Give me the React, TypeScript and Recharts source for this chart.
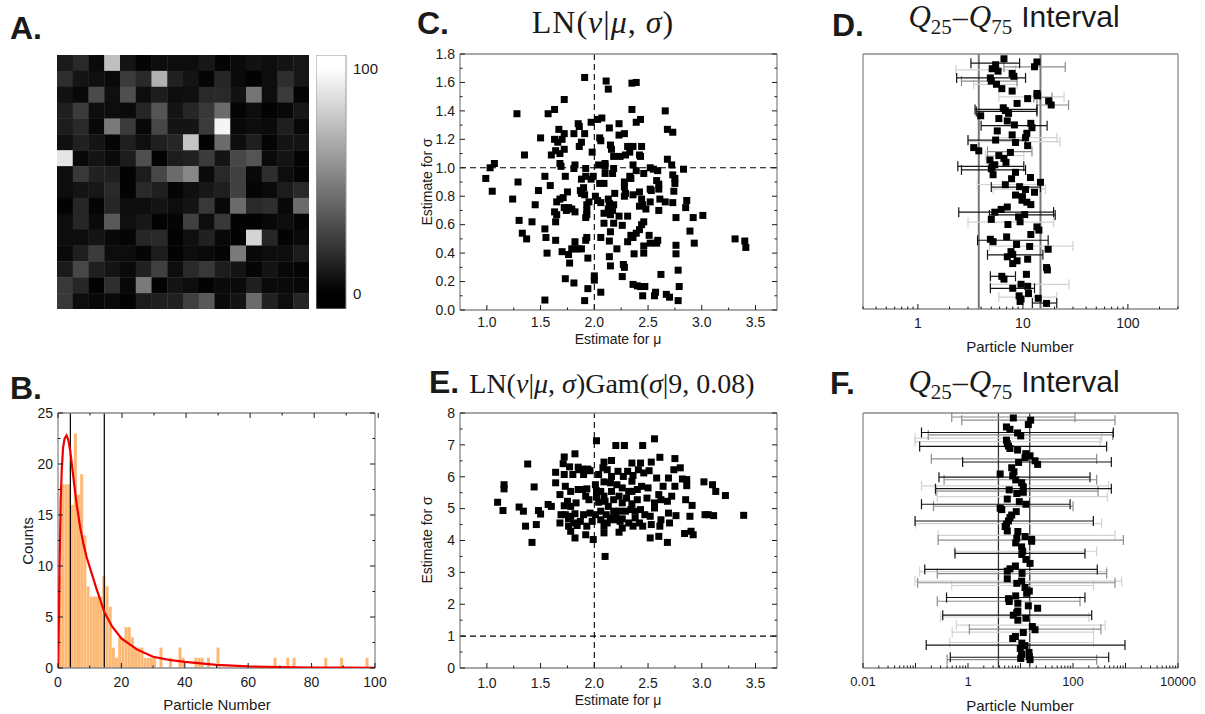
import React from "react";
import {
  ComposedChart, ScatterChart, BarChart, Bar, Scatter, XAxis, YAxis,
  ReferenceLine, ErrorBar,
} from "recharts";

const SANS = '"Liberation Sans", Arial, sans-serif';
const SERIF = '"Liberation Serif", "Times New Roman", serif';
const INK = "#1a1a1a";
const FRAME = "#8a8a8a";
const ORANGE = "#fdb873";

// ---------- A: particle counts per pixel (16 x 16) ----------
const pixelCounts: number[][] = [
  [10, 16, 4, 75, 8, 2, 5, 5, 5, 9, 2, 4, 7, 5, 8, 9],
  [18, 8, 6, 4, 23, 16, 69, 13, 8, 2, 15, 4, 1, 5, 18, 9],
  [7, 3, 29, 6, 31, 5, 11, 5, 6, 16, 16, 7, 46, 5, 23, 2],
  [12, 23, 5, 5, 4, 15, 33, 8, 15, 22, 42, 2, 5, 1, 3, 9],
  [11, 16, 3, 48, 23, 3, 28, 8, 8, 23, 96, 3, 5, 4, 12, 3],
  [6, 13, 8, 2, 12, 6, 12, 15, 77, 1, 42, 5, 12, 2, 8, 8],
  [90, 3, 8, 4, 11, 31, 1, 11, 13, 23, 8, 28, 33, 4, 8, 2],
  [5, 22, 13, 12, 1, 11, 28, 42, 53, 4, 16, 25, 3, 18, 5, 2],
  [5, 8, 9, 16, 1, 16, 12, 2, 6, 9, 12, 25, 2, 4, 11, 16],
  [1, 15, 2, 15, 5, 5, 8, 5, 8, 22, 3, 42, 16, 18, 3, 42],
  [5, 15, 4, 35, 6, 9, 1, 2, 25, 5, 22, 1, 1, 3, 5, 2],
  [5, 5, 8, 3, 2, 15, 16, 1, 6, 13, 3, 1, 83, 15, 1, 4],
  [4, 12, 23, 5, 5, 2, 11, 1, 5, 4, 2, 48, 3, 5, 5, 11],
  [10, 28, 12, 8, 4, 13, 25, 5, 16, 22, 11, 8, 2, 8, 3, 2],
  [22, 15, 1, 18, 3, 48, 1, 8, 5, 1, 4, 4, 12, 4, 4, 3],
  [22, 5, 3, 4, 1, 11, 12, 13, 25, 35, 4, 8, 42, 13, 5, 15],
];
const colorbarTicks = [0, 100];
const colorbarRange: [number, number] = [-7, 106];

// ---------- B: histogram of particle numbers (bins of width 1, 0..99) ----------
const histCounts = [
  9, 18, 18, 18, 16, 23, 17, 19, 13, 8,
  7, 7, 7, 7, 9, 8, 6, 2, 1, 3,
  3, 4, 4, 3, 2, 2, 2, 1, 1, 1,
  1, 0, 2, 0, 0, 1, 0, 0, 2, 1,
  0, 0, 0, 1, 1, 1, 0, 1, 0, 0,
  2, 0, 0, 0, 0, 0, 0, 0, 0, 0,
  0, 0, 0, 0, 0, 0, 0, 0, 1, 0,
  0, 0, 1, 0, 1, 0, 0, 0, 0, 0,
  0, 0, 0, 0, 1, 0, 0, 0, 0, 1,
  0, 0, 0, 0, 0, 0, 0, 1, 0, 0,
];
const histXTicks = [0, 10, 20, 30, 40, 50, 60, 70, 80, 90, 100];
const histXLabels = [0, 20, 40, 60, 80, 100];
const histYTicks = [0, 2.5, 5, 7.5, 10, 12.5, 15, 17.5, 20, 22.5, 25];
const histYLabels = [0, 5, 10, 15, 20, 25];
const fitCurve: [number, number][] = [
  [0, 0], [0.3, 5], [0.5, 10], [0.85, 16.5], [1.2, 19.5], [1.6, 21.6], [2.1, 22.5],
  [2.7, 22.8], [3.3, 22.3], [3.9, 21.2], [5, 18.3], [6, 15.8], [7, 13.8], [8, 12.2],
  [9, 10.9], [10, 9.9], [12, 7.9], [14.6, 5.5], [17, 4.1], [20, 2.9], [25, 1.8],
  [30, 1.1], [35, 0.8], [40, 0.6], [50, 0.3], [60, 0.15], [70, 0.1], [80, 0.05],
  [90, 0.03], [100, 0.02],
];
const quartileMarks = [3.9, 14.6];

// ---------- C / E: estimates ----------
const muTicks = [1, 1.25, 1.5, 1.75, 2, 2.25, 2.5, 2.75, 3, 3.25, 3.5];
const muLabels = [1, 1.5, 2, 2.5, 3, 3.5];
const sigmaTicksC = [0, 0.1, 0.2, 0.3, 0.4, 0.5, 0.6, 0.7, 0.8, 0.9, 1, 1.1, 1.2, 1.3, 1.4, 1.5, 1.6, 1.7, 1.8];
const sigmaLabelsC = [0, 0.2, 0.4, 0.6, 0.8, 1, 1.2, 1.4, 1.6, 1.8];
const sigmaTicksE = [0, 0.5, 1, 1.5, 2, 2.5, 3, 3.5, 4, 4.5, 5, 5.5, 6, 6.5, 7, 7.5, 8];
const sigmaLabelsE = [0, 1, 2, 3, 4, 5, 6, 7, 8];

const cPoints: [number, number][] = [
  [1.91, 1.635], [2.11, 1.61], [2.13, 1.553], [2.35, 1.595], [2.39, 1.6], [1.72, 1.48], [1.28, 1.38],
  [1.57, 1.38], [1.63, 1.41], [2.35, 1.41], [2.66, 1.4], [2.43, 1.34], [2.39, 1.32], [2.07, 1.35],
  [2.03, 1.34], [1.97, 1.32], [1.85, 1.31], [1.86, 1.29], [1.67, 1.27], [2.14, 1.28], [2.23, 1.31],
  [2.68, 1.27], [2.73, 1.25], [2.28, 1.24], [2.23, 1.23], [1.91, 1.24], [1.81, 1.24], [1.72, 1.24],
  [1.7, 1.2], [1.5, 1.21], [1.63, 1.2], [1.66, 1.18], [2.06, 1.19], [2.05, 1.21], [1.88, 1.18],
  [1.86, 1.15], [2.15, 1.16], [2.16, 1.13], [2.31, 1.15], [2.36, 1.15], [2.44, 1.15], [1.64, 1.12],
  [1.72, 1.13], [1.68, 1.1], [1.98, 1.11], [1.6, 1.09], [1.35, 1.09], [2.18, 1.08], [2.24, 1.08],
  [2.29, 1.09], [2.33, 1.11], [2.42, 1.09], [2.43, 1.08], [2.68, 1.06], [1.03, 1.0], [1.07, 1.03],
  [0.99, 0.925], [1.05, 0.835], [1.29, 0.9], [1.24, 0.78], [1.48, 0.84], [1.45, 0.74], [1.3, 0.63],
  [1.42, 0.62], [1.33, 0.54], [1.37, 0.5], [1.54, 0.57], [1.55, 0.51], [1.56, 0.4], [1.54, 0.07],
  [1.54, 0.94], [1.59, 0.875], [1.68, 1.03], [1.69, 1.01], [1.73, 0.94], [1.82, 1.02], [1.81, 0.995],
  [1.92, 0.995], [1.92, 0.94], [1.88, 0.92], [1.99, 0.94], [1.97, 0.92], [2.04, 1.02], [2.1, 1.03],
  [2.1, 1.01], [2.17, 0.96], [2.1, 0.96], [2.09, 0.89], [2.05, 0.89], [2.36, 1.02], [2.39, 0.98],
  [2.34, 0.925], [2.33, 0.94], [2.46, 0.96], [2.52, 1.0], [2.55, 0.99], [2.59, 0.98], [2.72, 1.02],
  [2.83, 0.99], [2.73, 0.95], [2.75, 0.925], [2.75, 0.89], [2.58, 0.91], [2.6, 0.885], [2.6, 0.85],
  [2.52, 0.85], [2.74, 0.835], [2.28, 0.9], [1.9, 0.86], [1.87, 0.84], [1.88, 0.82], [1.91, 0.81],
  [1.75, 0.83], [1.65, 0.76], [1.68, 0.78], [1.71, 0.79], [1.79, 0.71], [1.82, 0.69], [1.76, 0.72],
  [1.72, 0.72], [2.01, 0.8], [2.03, 0.77], [2.06, 0.755], [1.95, 0.76], [1.93, 0.74], [1.93, 0.7],
  [1.93, 0.67], [2.13, 0.78], [2.14, 0.75], [2.18, 0.74], [2.28, 0.8], [2.29, 0.82], [2.18, 0.995],
  [2.44, 0.78], [2.45, 0.74], [2.48, 0.71], [2.42, 0.73], [2.52, 0.76], [2.53, 0.84], [2.61, 0.78],
  [2.66, 0.76], [2.6, 0.7], [2.73, 0.755], [2.86, 0.77], [2.85, 0.72], [3.01, 0.665], [2.92, 0.65],
  [2.89, 0.555], [2.93, 0.47], [2.76, 0.65], [1.63, 0.69], [1.65, 0.67], [1.64, 0.62], [1.64, 0.49],
  [1.74, 0.7], [1.92, 0.65], [2.09, 0.68], [2.13, 0.71], [2.17, 0.7], [2.15, 0.67], [2.09, 0.61],
  [2.15, 0.55], [2.23, 0.66], [2.18, 0.61], [2.26, 0.595], [2.31, 0.66], [2.36, 0.51], [2.39, 0.54],
  [2.42, 0.565], [2.44, 0.6], [2.46, 0.62], [2.31, 0.48], [2.34, 0.525], [2.51, 0.525], [2.52, 0.47],
  [2.58, 0.47], [2.59, 0.49], [2.46, 0.45], [2.06, 0.51], [2.14, 0.485], [1.82, 0.48], [1.92, 0.49],
  [1.93, 0.51], [1.79, 0.43], [1.82, 0.43], [1.85, 0.43], [1.88, 0.43], [1.7, 0.41], [1.76, 0.39],
  [1.77, 0.33], [1.73, 0.22], [1.81, 0.19], [1.94, 0.365], [1.94, 0.15], [1.91, 0.066], [2.0, 0.24],
  [2.0, 0.21], [2.06, 0.125], [2.14, 0.375], [2.15, 0.31], [2.21, 0.43], [2.26, 0.235], [2.27, 0.32],
  [2.28, 0.3], [2.37, 0.395], [2.36, 0.18], [2.4, 0.17], [2.43, 0.165], [2.47, 0.165], [2.45, 0.1],
  [2.46, 0.4], [2.56, 0.1], [2.57, 0.125], [2.62, 0.25], [2.67, 0.11], [2.7, 0.09], [2.76, 0.395],
  [2.76, 0.455], [2.78, 0.28], [2.79, 0.165], [2.78, 0.066], [3.31, 0.5], [3.4, 0.485], [3.41, 0.44],
  [2.28, 0.865], [2.19, 0.82], [2.36, 0.81], [2.42, 0.83],
];

const ePoints: [number, number][] = [
  [2.02, 7.13], [2.2, 6.98], [2.28, 6.98], [2.45, 6.98], [2.56, 7.19], [1.82, 6.72], [1.72, 6.62],
  [2.61, 6.61], [2.75, 6.57], [1.38, 6.4], [1.71, 6.41], [2.09, 6.46], [2.16, 6.51], [2.35, 6.43],
  [2.43, 6.43], [2.53, 6.46], [1.77, 6.31], [1.85, 6.3], [1.86, 6.22], [1.89, 6.24], [1.96, 6.19],
  [1.94, 6.24], [2.12, 6.22], [2.08, 6.28], [2.22, 6.17], [2.31, 6.17], [2.41, 6.22], [2.51, 6.19],
  [2.74, 6.22], [2.8, 6.28], [1.64, 6.14], [1.8, 6.07], [1.72, 6.07], [1.9, 6.07], [2.04, 6.07],
  [2.16, 6.01], [2.27, 6.01], [2.36, 6.04], [2.46, 6.12], [2.58, 5.96], [2.69, 5.96], [2.82, 5.93],
  [2.86, 5.91], [3.02, 5.84], [3.1, 5.75], [3.13, 5.54], [3.22, 5.41], [3.39, 4.79], [3.03, 4.81],
  [3.06, 4.81], [3.11, 4.78], [2.91, 5.1], [2.85, 5.28], [2.86, 5.72], [2.75, 5.7], [2.72, 5.39],
  [2.68, 5.23], [2.62, 5.28], [2.6, 5.44], [2.76, 4.78], [2.69, 4.86], [2.62, 4.65], [2.7, 4.55],
  [2.61, 4.45], [2.53, 4.5], [2.52, 4.08], [2.6, 4.13], [2.68, 3.94], [2.84, 4.22], [2.9, 4.29],
  [2.92, 4.18], [2.89, 4.76], [2.47, 4.81], [2.52, 4.76], [2.56, 5.02], [2.49, 5.33], [2.44, 5.7],
  [2.4, 5.6], [2.5, 5.65], [2.35, 5.86], [2.32, 5.54], [2.26, 5.65], [2.21, 5.75], [2.15, 5.81],
  [2.09, 5.84], [2.01, 5.75], [1.93, 5.62], [1.85, 5.6], [1.78, 5.54], [1.73, 5.7], [1.64, 5.81],
  [1.68, 5.44], [1.6, 5.07], [1.57, 5.13], [1.75, 5.23], [1.83, 5.18], [1.78, 5.07], [1.72, 5.09],
  [1.92, 5.39], [1.95, 5.28], [2.02, 5.36], [2.09, 5.39], [2.04, 5.2], [2.1, 5.23], [2.13, 5.07],
  [2.18, 5.28], [2.23, 5.39], [2.26, 5.18], [2.3, 5.33], [2.35, 5.15], [2.4, 5.28], [2.43, 4.97],
  [2.38, 4.92], [2.34, 4.97], [2.29, 4.92], [2.23, 4.92], [2.18, 4.92], [2.11, 4.81], [2.06, 4.92],
  [2.01, 4.81], [1.96, 4.86], [1.9, 4.81], [1.82, 4.84], [1.78, 4.76], [1.73, 4.81], [1.69, 4.81],
  [1.68, 4.55], [1.76, 4.68], [1.81, 4.55], [1.84, 4.47], [1.87, 4.6], [1.93, 4.45], [1.92, 4.18],
  [1.82, 4.08], [1.78, 4.29], [1.76, 4.45], [1.98, 4.6], [1.99, 4.03], [2.06, 4.65], [2.09, 4.45],
  [2.12, 4.55], [2.09, 4.24], [2.18, 4.65], [2.24, 4.6], [2.26, 4.39], [2.23, 4.26], [2.32, 4.55],
  [2.36, 4.45], [2.42, 4.55], [2.45, 4.45], [2.15, 4.71], [2.2, 4.81], [2.26, 4.68], [2.38, 4.71],
  [2.35, 5.54], [2.1, 3.5], [1.1, 5.2], [1.15, 4.94], [1.16, 5.75], [1.16, 5.62], [1.3, 5.05],
  [1.34, 4.92], [1.36, 4.45], [1.42, 3.94], [1.46, 4.5], [1.44, 5.68], [1.48, 4.94], [1.5, 4.83],
  [1.89, 5.6], [2.02, 5.56], [2.06, 5.54], [2.16, 5.54], [2.64, 5.7], [2.56, 5.18],
];

// ---------- D / F: per-pixel medians and Q25-Q75 intervals ----------
// [median, row]
const dMedians: [number, number][] = [
  [6.6, 1.2], [13.6, 2.0], [12.9, 3.2], [5.5, 2.7], [5.1, 3.7], [5.8, 4.3], [7.9, 4.9], [8.2, 5.6],
  [4.9, 6.0], [5.0, 6.8], [5.6, 7.6], [6.3, 8.7], [7.9, 9.3], [13.6, 9.9], [13.8, 10.5], [11.1, 11.2],
  [8.8, 12.4], [17.6, 11.8], [18.6, 12.8], [6.5, 13.5], [6.8, 14.2], [7.3, 14.9], [3.96, 15.5],
  [5.9, 16.2], [7.1, 16.8], [8.3, 17.8], [11.9, 17.4], [12.2, 18.5], [5.7, 19.3], [7.9, 20.3],
  [10.9, 19.9], [10.6, 21.0], [5.5, 21.6], [8.5, 22.2], [11.1, 23.0], [3.4, 23.5], [3.8, 24.3],
  [7.6, 24.7], [5.9, 25.5], [6.6, 26.2], [6.9, 27.2], [4.85, 26.6], [5.1, 28.3], [5.4, 27.8],
  [5.0, 28.8], [8.5, 29.7], [5.2, 30.3], [7.8, 31.3], [11.8, 31.0], [6.8, 32.8], [14.7, 32.2],
  [9.3, 33.3], [10.6, 34.0], [12.9, 34.7], [8.5, 35.4], [9.9, 35.8], [9.8, 36.7], [10.9, 37.2],
  [11.9, 37.8], [7.1, 38.4], [6.2, 39.0], [5.4, 39.7], [10.4, 40.3], [9.1, 40.9], [9.4, 42.1],
  [5.0, 41.5], [7.2, 42.8], [13.6, 43.4], [14.2, 44.2], [11.9, 45.3], [7.0, 45.9], [4.9, 46.5],
  [5.2, 47.1], [8.7, 47.8], [11.6, 48.3], [17.4, 49.0], [7.7, 49.6], [8.0, 50.3], [7.1, 50.9],
  [11.1, 51.5], [8.8, 51.9], [8.0, 52.6], [16.8, 53.6], [17.1, 54.2], [10.8, 55.3], [6.3, 55.8],
  [6.6, 56.5], [9.6, 57.8], [11.1, 58.3], [8.0, 58.8], [11.3, 60.1], [9.2, 60.7], [9.6, 61.5],
  [14.0, 61.3], [16.8, 62.6], [9.4, 62.1],
];
// [q25, q75, row, shade 0=black 1=gray 2=light]
const dIntervals: [number, number, number, number][] = [
  [3.2, 9.3, 2.3, 0], [6.6, 25.3, 3.25, 1], [2.3, 8.5, 4.0, 2], [2.34, 10.6, 6.0, 0], [2.6, 8.8, 6.8, 1],
  [3.4, 8.8, 7.6, 2], [5.9, 24.7, 10.75, 2], [12.7, 18.9, 10.9, 1], [13.6, 27.2, 12.8, 1],
  [3.5, 13.6, 13.9, 0], [3.6, 13.6, 14.4, 0], [4.0, 17.0, 18.0, 0], [5.8, 21.1, 21.0, 2],
  [3.0, 22.5, 22.0, 2], [3.0, 10.6, 21.6, 0], [4.6, 12.2, 24.5, 1], [4.4, 10.2, 25.5, 2],
  [2.4, 10.2, 28.2, 0], [2.6, 10.6, 29.1, 0], [3.68, 15.2, 32.75, 2], [5.0, 14.7, 33.4, 0],
  [5.2, 16.4, 33.9, 2], [2.45, 19.6, 39.7, 0], [4.8, 20.3, 40.4, 0], [3.0, 19.6, 42.2, 2],
  [3.7, 17.4, 46.75, 0], [4.8, 30, 48.2, 2], [4.6, 15.5, 50.4, 0], [4.9, 8.5, 55.8, 0],
  [4.9, 27.5, 57.8, 2], [4.9, 12.9, 58.8, 0], [5.9, 21.0, 61.0, 2], [12.3, 21.0, 62.5, 0],
];
const fMedians: [number, number][] = [
  [7.3, 1.25], [15.6, 1.8], [14.1, 2.9], [5.4, 3.5], [6.3, 4.1], [8.8, 5.0], [10.1, 5.75], [5.4, 6.8],
  [5.6, 7.7], [5.9, 8.3], [6.3, 8.9], [8.8, 9.3], [12.6, 10.2], [15.2, 10.75], [18.9, 12.0], [21.2, 12.9],
  [12.2, 11.2], [9.2, 12.4], [6.8, 13.75], [7.5, 14.75], [4.1, 15.3], [7.1, 15.75], [8.1, 16.8],
  [10.5, 17.5], [11.3, 18.5], [6.1, 19.3], [8.5, 20.2], [11.3, 19.9], [5.6, 21.6], [9.5, 22.25],
  [12.7, 22.9], [4.1, 23.9], [4.4, 24.25], [8.3, 24.75], [6.8, 25.6], [6.3, 26.25], [5.9, 27.1],
  [5.4, 27.9], [5.1, 28.5], [5.6, 29.6], [8.9, 29.75], [8.5, 31.4], [12.2, 31.0], [16.3, 31.7],
  [8.1, 32.6], [16.3, 32.2], [10.5, 33.6], [11.0, 34.7], [10.6, 35.5], [12.7, 36.75], [15.2, 37.75],
  [8.0, 38.4], [6.3, 39.1], [5.6, 39.7], [10.7, 40.25], [5.6, 41.6], [10.5, 42.2], [8.5, 42.75],
  [12.2, 43.8], [14.7, 44.7], [13.1, 45.25], [8.1, 45.9], [5.9, 46.6], [6.1, 47.3], [8.9, 47.75],
  [14.1, 48.4], [21.2, 49.0], [8.9, 49.7], [8.5, 50.1], [7.3, 50.75], [12.7, 51.5], [8.9, 52.0],
  [16.8, 53.6], [18.9, 54.4], [11.3, 55.1], [8.0, 56.1], [7.1, 56.6], [10.6, 57.75], [12.2, 58.4],
  [9.9, 59.1], [14.5, 60.1], [10.5, 60.5], [10.1, 61.6], [14.7, 61.1], [15.2, 61.9],
];
const fIntervals: [number, number, number, number][] = [
  [0.49, 109, 1.0, 1], [0.76, 631, 1.8, 1], [0.13, 586, 4.9, 0], [0.175, 570, 5.5, 1], [0.098, 352, 6.3, 2],
  [0.098, 327, 7.2, 2], [0.12, 437, 8.4, 0], [0.2, 282, 11.5, 1], [0.79, 537, 12.3, 0], [0.28, 211, 16.1, 0],
  [0.35, 282, 16.75, 1], [0.13, 478, 18.3, 2], [0.24, 537, 19.0, 0], [0.245, 300, 19.6, 1],
  [0.26, 450, 21.0, 2], [0.13, 88, 22.9, 0], [0.22, 100, 23.4, 1], [0.098, 244, 27.1, 0],
  [0.1, 350, 27.75, 2], [0.27, 631, 30.7, 2], [0.27, 912, 31.9, 1], [0.55, 282, 34.7, 2],
  [0.565, 169, 35.25, 0], [0.15, 290, 39.25, 0], [0.12, 437, 39.8, 2], [0.26, 437, 40.3, 1],
  [0.098, 846, 42.2, 2], [0.11, 631, 42.6, 1], [0.49, 246, 43.3, 2], [0.39, 169, 46.3, 0],
  [0.26, 136, 47.25, 1], [0.33, 227, 50.75, 0], [0.3, 200, 51.2, 2], [0.6, 410, 53.25, 2],
  [1.06, 340, 54.25, 1], [0.5, 246, 55.0, 2], [0.16, 977, 58.25, 0], [0.45, 246, 57.6, 2],
  [0.46, 478, 61.3, 0], [0.4, 282, 61.9, 1],
];
const dLabels = [1, 10, 100];
const fLabels = [0.01, 1, 100, 10000];
const dQuartiles = [3.8, 14.7];
const fQuartiles = [3.8, 15];
const SHADES = ["#151515", "#8c8c8c", "#d2d2d2"];

// ---------- helpers ----------
const logTicks = (lo: number, hi: number) => {
  const out: number[] = [];
  for (let e = -3; e <= 4; e++) {
    for (let m = 1; m <= 9; m++) {
      const v = +(m * Math.pow(10, e)).toPrecision(3);
      if (v >= lo * 0.999 && v <= hi * 1.001) out.push(v);
    }
  }
  return out;
};
const decades = (lo: number, hi: number) => logTicks(lo, hi).filter((v) => /^1/.test(v.toExponential()));

const near = (arr: number[], v: number) =>
  arr.some((a) => Math.abs(a - v) <= 1e-6 * Math.max(1, Math.abs(a)));

type Side = "bottom" | "top" | "left" | "right";
function tickFor(side: Side, labels: number[], majors: number[], fmt: (v: number) => string, fs: number, gap: number) {
  return (p: any) => {
    const { x, y } = p;
    const v = p.payload.value;
    const len = near(majors, v) ? 5 : 2.5;
    const show = near(labels, v);
    const ln = { stroke: INK, strokeWidth: 1 };
    if (side === "bottom")
      return (
        <g>
          <line x1={x} x2={x} y1={y} y2={y - len} {...ln} />
          {show && (
            <text x={x} y={y + gap} dy="0.71em" textAnchor="middle" fontSize={fs} fontFamily={SANS} fill={INK}>
              {fmt(v)}
            </text>
          )}
        </g>
      );
    if (side === "top") return <line x1={x} x2={x} y1={y} y2={y + len} {...ln} />;
    if (side === "right") return <line x1={x} x2={x - len} y1={y} y2={y} {...ln} />;
    return (
      <g>
        <line x1={x} x2={x + len} y1={y} y2={y} {...ln} />
        {show && (
          <text x={x - gap} y={y} dy="0.34em" textAnchor="end" fontSize={fs} fontFamily={SANS} fill={INK}>
            {fmt(v)}
          </text>
        )}
      </g>
    );
  };
}

interface FrameOpts {
  xId?: string | number;
  log?: boolean;
  xDomain: [number, number];
  xTicks: number[];
  xMajor: number[];
  xLabels: number[];
  xFmt: (v: number) => string;
  yDomain: [number, number];
  yTicks?: number[];
  yMajor?: number[];
  yLabels?: number[];
  yFmt?: (v: number) => string;
  reversed?: boolean;
  leftW: number;
  bottomH: number;
  fs: number;
  xGap: number;
}

// four axes forming the box; the top / right ones are 1px thick and carry only inward ticks
function frame(o: FrameOpts) {
  const xId = o.xId ?? 0;
  const axisLine = { stroke: FRAME, strokeWidth: 1.3 };
  const scale = o.log ? "log" : "linear";
  const yFmt = o.yFmt ?? ((v: number) => String(v));
  const hasY = !!o.yTicks;
  return [
    <XAxis key="xb" xAxisId={xId} dataKey="x" type="number" scale={scale} domain={o.xDomain}
      allowDataOverflow ticks={o.xTicks} interval={0} tickSize={0} tickMargin={0} tickLine={false}
      axisLine={axisLine} height={o.bottomH}
      tick={tickFor("bottom", o.xLabels, o.xMajor, o.xFmt, o.fs, o.xGap)} />,
    <XAxis key="xt" xAxisId="top" orientation="top" type="number" scale={scale} domain={o.xDomain}
      allowDataOverflow ticks={o.xTicks} interval={0} tickSize={0} tickMargin={0} tickLine={false}
      axisLine={axisLine} height={1}
      tick={tickFor("top", [], o.xMajor, o.xFmt, o.fs, o.xGap)} />,
    <YAxis key="yl" yAxisId={0} dataKey="y" type="number" domain={o.yDomain} allowDataOverflow reversed={o.reversed}
      ticks={hasY ? o.yTicks : undefined} interval={0} tickSize={0} tickMargin={0} tickLine={false}
      axisLine={axisLine} width={o.leftW}
      tick={hasY ? tickFor("left", o.yLabels ?? [], o.yMajor ?? [], yFmt, o.fs, 5) : false} />,
    <YAxis key="yr" yAxisId="right" orientation="right" type="number" domain={o.yDomain} allowDataOverflow
      reversed={o.reversed} ticks={hasY ? o.yTicks : undefined} interval={0} tickSize={0} tickMargin={0}
      tickLine={false} axisLine={axisLine} width={1}
      tick={hasY ? tickFor("right", [], o.yMajor ?? [], yFmt, o.fs, 5) : false} />,
    <Scatter key="anchor" xAxisId="top" yAxisId="right" data={[]} shape={() => <g />} isAnimationActive={false} />,
  ];
}

const Square = (p: any) => <rect x={p.cx - 3.5} y={p.cy - 3.5} width={7} height={7} fill="#000" />;
const Nothing = () => <g />;

const HEAT_W = 252;
const HEAT_H = 254;
const CELL_W = HEAT_W / 16;
const CELL_H = HEAT_H / 16;
const HeatCell = (p: any) => {
  const g = Math.round(Math.max(0, Math.min(100, p.payload.v)) * 2.55);
  return (
    <rect x={p.cx - CELL_W / 2} y={p.cy - CELL_H / 2} width={CELL_W + 0.4} height={CELL_H + 0.4}
      fill={`rgb(${g},${g},${g})`} />
  );
};

function Pos({ left, top, children }: any) {
  return <div style={{ position: "absolute", left, top }}>{children}</div>;
}
function Label({ x, y, size, children, rotate = false, style = {} }: any) {
  return (
    <div
      style={{
        position: "absolute", left: x, top: y, fontSize: size, lineHeight: 1, whiteSpace: "nowrap",
        transform: `translate(-50%, -50%)${rotate ? " rotate(-90deg)" : ""}`, ...style,
      }}
    >
      {children}
    </div>
  );
}
function Letter({ x, y, children }: any) {
  return (
    <div style={{ position: "absolute", left: x, top: y, transform: "translateY(-50%)", fontSize: 32,
      fontWeight: 700, lineHeight: 1, fontFamily: SANS }}>
      {children}
    </div>
  );
}
function QTitle({ x, y }: any) {
  const q = { fontFamily: SERIF, fontStyle: "italic" as const, fontSize: 31 };
  const sub = { fontFamily: SERIF, fontSize: 21, position: "relative" as const, top: 7 };
  return (
    <Label x={x} y={y} size={30}>
      <span style={q}>Q</span><span style={sub}>25</span>
      <span style={{ fontFamily: SERIF, fontSize: 30, margin: "0 1px" }}>–</span>
      <span style={q}>Q</span><span style={sub}>75</span>
      <span style={{ fontFamily: SANS, marginLeft: 9 }}>Interval</span>
    </Label>
  );
}

export default function App() {
  const heatData = pixelCounts.flatMap((row, r) => row.map((v, c) => ({ x: c + 0.5, y: r + 0.5, v })));
  const histData = histCounts.map((count, bin) => ({ bin, count }));
  const curveData = fitCurve.map(([x, y]) => ({ x, y }));
  const cData = cPoints.map(([x, y]) => ({ x, y }));
  const eData = ePoints.map(([x, y]) => ({ x, y }));
  const toMed = (a: [number, number][]) => a.map(([x, y]) => ({ x, y }));
  const toInt = (a: [number, number, number, number][], shade: number) =>
    a.filter((d) => d[3] === shade).map(([lo, hi, y]) => ({ x: lo, y, err: [0, hi - lo] }));

  const muFmt = (v: number) => v.toFixed(1);
  const logFmt = (v: number) => String(v);

  const intervalChart = (
    meds: [number, number][], ints: [number, number, number, number][], dom: [number, number],
    labels: number[], quart: number[], qColor: string, qWidth: number, fs: number,
  ) => (
    <ScatterChart width={380} height={300} margin={{ top: 9, right: 21, bottom: 0, left: 0 }}>
      {frame({
        log: true, xDomain: dom, xTicks: logTicks(dom[0], dom[1]), xMajor: decades(dom[0], dom[1]),
        xLabels: labels, xFmt: logFmt, yDomain: [0, 64], reversed: true, leftW: 43, bottomH: 35, fs, xGap: 9,
      })}
      {quart.map((q) => (
        <ReferenceLine key={q} x={q} stroke={qColor} strokeWidth={qWidth} />
      ))}
      {[2, 1, 0].map((s) => (
        <Scatter key={s} data={toInt(ints, s)} shape={Nothing} isAnimationActive={false}>
          <ErrorBar dataKey="err" direction="x" width={5} stroke={SHADES[s]} strokeWidth={1.2}
            isAnimationActive={false} />
        </Scatter>
      ))}
      <Scatter data={toMed(meds)} shape={Square} isAnimationActive={false} />
    </ScatterChart>
  );

  return (
    <div style={{ position: "absolute", left: 0, top: 0, width: 1205, height: 714, background: "#fff",
      fontFamily: SANS, color: INK, overflow: "hidden" }}>
      {/* A */}
      <Letter x={10} y={28}>A.</Letter>
      <Pos left={57} top={55}>
        <ScatterChart width={HEAT_W} height={HEAT_H} margin={{ top: 0, right: 0, bottom: 0, left: 0 }}>
          <XAxis dataKey="x" type="number" domain={[0, 16]} hide />
          <YAxis dataKey="y" type="number" domain={[0, 16]} reversed hide />
          <Scatter data={heatData} shape={HeatCell} isAnimationActive={false} />
        </ScatterChart>
      </Pos>
      <Pos left={316} top={55}>
        <BarChart width={75} height={254} data={[{ k: "bar", r: colorbarRange }]}
          margin={{ top: 0, right: 0, bottom: 0, left: 0 }} barCategoryGap={0}>
          <defs>
            <linearGradient id="cbGrad" x1="0" y1="0" x2="0" y2="1">
              <stop offset={(colorbarRange[1] - 100) / (colorbarRange[1] - colorbarRange[0])} stopColor="#fff" />
              <stop offset={colorbarRange[1] / (colorbarRange[1] - colorbarRange[0])} stopColor="#000" />
            </linearGradient>
          </defs>
          <XAxis dataKey="k" hide />
          <YAxis orientation="right" type="number" domain={colorbarRange} ticks={colorbarTicks} width={45}
            axisLine={false} tickLine={false} tickSize={0} tickMargin={7}
            tick={{ fontSize: 15, fill: INK, fontFamily: SANS }} />
          <Bar dataKey="r" fill="url(#cbGrad)" stroke="#9a9a9a" strokeWidth={1} isAnimationActive={false} />
        </BarChart>
      </Pos>

      {/* B */}
      <Letter x={10} y={388}>B.</Letter>
      <Pos left={0} top={400}>
        <ComposedChart width={390} height={300} data={histData} margin={{ top: 12, right: 14, bottom: 0, left: 0 }}
          barCategoryGap={0} barGap={0}>
          <XAxis xAxisId="bins" dataKey="bin" type="category" hide height={0} />
          {frame({
            xId: "num", xDomain: [0, 100], xTicks: histXTicks, xMajor: histXLabels, xLabels: histXLabels,
            xFmt: logFmt, yDomain: [0, 25], yTicks: histYTicks, yMajor: histYLabels, yLabels: histYLabels,
            leftW: 58, bottomH: 32, fs: 14, xGap: 9,
          })}
          <Bar xAxisId="bins" dataKey="count" fill={ORANGE} isAnimationActive={false} />
          {quartileMarks.map((q) => (
            <ReferenceLine key={q} xAxisId="num" x={q} stroke="#000" strokeWidth={1.2} />
          ))}
          <Scatter xAxisId="num" data={curveData} dataKey="y" line={{ stroke: "#f00000", strokeWidth: 2.2 }}
            lineType="joint" shape={Nothing} isAnimationActive={false} />
        </ComposedChart>
      </Pos>
      <Label x={27} y={541} size={15} rotate>Counts</Label>
      <Label x={217} y={704} size={15}>Particle Number</Label>

      {/* C */}
      <Letter x={417} y={23}>C.</Letter>
      <Label x={603} y={22} size={32} style={{ fontFamily: SERIF, letterSpacing: 1 }}>
        LN(<i>ν</i>|<i>μ</i>, <i>σ</i>)
      </Label>
      <Pos left={400} top={44}>
        <ScatterChart width={390} height={300} margin={{ top: 9, right: 12, bottom: 0, left: 0 }}>
          {frame({
            xDomain: [0.75, 3.7], xTicks: muTicks, xMajor: muLabels, xLabels: muLabels, xFmt: muFmt,
            yDomain: [0, 1.8], yTicks: sigmaTicksC, yMajor: sigmaLabelsC, yLabels: sigmaLabelsC, yFmt: muFmt,
            leftW: 60, bottomH: 34, fs: 14, xGap: 7,
          })}
          <ReferenceLine x={2} stroke="#000" strokeDasharray="6 4" strokeWidth={1.1} />
          <ReferenceLine y={1} stroke="#000" strokeDasharray="6 4" strokeWidth={1.1} />
          <Scatter data={cData} shape={Square} isAnimationActive={false} />
        </ScatterChart>
      </Pos>
      <Label x={427} y={182} size={14} rotate>Estimate for σ</Label>
      <Label x={618} y={339} size={14}>Estimate for μ</Label>

      {/* E */}
      <Letter x={429} y={382}>E.</Letter>
      <Label x={612} y={384} size={28} style={{ fontFamily: SERIF }}>
        LN(<i>ν</i>|<i>μ</i>, <i>σ</i>)Gam(<i>σ</i>|9, 0.08)
      </Label>
      <Pos left={400} top={403}>
        <ScatterChart width={390} height={300} margin={{ top: 9, right: 12, bottom: 0, left: 0 }}>
          {frame({
            xDomain: [0.75, 3.7], xTicks: muTicks, xMajor: muLabels, xLabels: muLabels, xFmt: muFmt,
            yDomain: [0, 8], yTicks: sigmaTicksE, yMajor: sigmaLabelsE, yLabels: sigmaLabelsE,
            leftW: 60, bottomH: 35, fs: 14, xGap: 10,
          })}
          <ReferenceLine x={2} stroke="#000" strokeDasharray="6 4" strokeWidth={1.1} />
          <ReferenceLine y={1} stroke="#000" strokeDasharray="6 4" strokeWidth={1.1} />
          <Scatter data={eData} shape={Square} isAnimationActive={false} />
        </ScatterChart>
      </Pos>
      <Label x={427} y={540} size={14} rotate>Estimate for σ</Label>
      <Label x={618} y={700} size={14}>Estimate for μ</Label>

      {/* D */}
      <Letter x={832} y={25}>D.</Letter>
      <QTitle x={1014} y={16} />
      <Pos left={820} top={44}>
        {intervalChart(dMedians, dIntervals, [0.3, 300], dLabels, dQuartiles, "#777", 2, 14)}
      </Pos>
      <Label x={1020} y={346} size={15}>Particle Number</Label>

      {/* F */}
      <Letter x={830} y={383}>F.</Letter>
      <QTitle x={1014} y={381} />
      <Pos left={820} top={403}>
        {intervalChart(fMedians, fIntervals, [0.01, 10000], fLabels, fQuartiles, "#333", 1.3, 13)}
      </Pos>
      <Label x={1020} y={705} size={15}>Particle Number</Label>
    </div>
  );
}
